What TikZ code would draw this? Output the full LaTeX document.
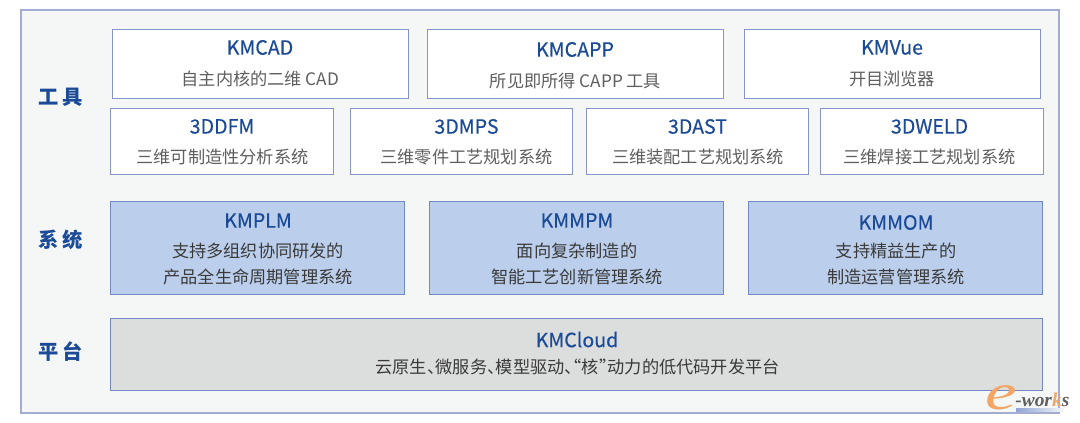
\documentclass[tikz,border=0pt]{standalone}
\usepackage{fontspec}
\setmainfont{Noto Sans CJK SC}
\newfontfamily\titlefont[FakeBold=0.35]{Noto Sans CJK SC}
\newfontfamily\markfont{Liberation Serif}
\usepackage{tikz}
\definecolor{framecol}{HTML}{A3ACD3}
\definecolor{panelcol}{HTML}{F5F7F7}
\definecolor{edgecol}{HTML}{8794CA}
\definecolor{sysedge}{HTML}{7388C6}
\definecolor{bluecol}{HTML}{BBCFEC}
\definecolor{greycol}{HTML}{DCDDDD}
\definecolor{titlecol}{HTML}{1B4A96}
\definecolor{subcol}{HTML}{5F5F5F}
\definecolor{darkcol}{HTML}{3A3A3A}
\definecolor{markcol}{HTML}{F3A566}
\definecolor{barcol}{HTML}{8FA3D6}
\tikzset{box/.style={draw=edgecol,line width=.6pt,inner sep=0pt,outer sep=0pt}}
\tikzset{wide/.style={box,fill=white,minimum width=222pt,minimum height=51.75pt}}
\tikzset{narrow/.style={box,fill=white,minimum width=167pt,minimum height=49.5pt}}
\tikzset{sys/.style={box,draw=sysedge,fill=bluecol,minimum width=220.5pt,minimum height=69.75pt}}
\tikzset{plat/.style={box,draw=sysedge,fill=greycol,minimum width=699pt,minimum height=54pt}}
\tikzset{title/.style={inner sep=0pt,text=titlecol,font=\titlefont\fontsize{14.7}{16}\selectfont}}
\tikzset{sub/.style={inner sep=0pt,text=subcol,font=\fontsize{12.9}{15}\selectfont}}
\tikzset{subd/.style={inner sep=0pt,text=darkcol,font=\fontsize{12.9}{15}\selectfont}}
\tikzset{side/.style={inner sep=0pt,text=titlecol,font=\bfseries\fontsize{15.2}{17}\selectfont}}
\tikzset{wm/.style={inner sep=0pt,font=\markfont\bfseries\itshape\fontsize{14.6}{17}\selectfont}}
\begin{document}
\begin{tikzpicture}[x=.75pt,y=-.75pt]
      \useasboundingbox (0,0) rectangle (1080,423);
      \node[draw=framecol,line width=.8pt,fill=panelcol,inner sep=0pt,minimum width=778.5pt,minimum height=302.25pt] (frame) at (540,211.5) {};
      \node[wide] (cad) at (260,63.5) {};
      \node[wide] (capp) at (575,63.5) {};
      \node[wide] (vue) at (892,63.5) {};
      \node[narrow] (dfm) at (222,141) {};
      \node[narrow] (mps) at (461.5,141) {};
      \node[narrow] (dast) at (697.5,141) {};
      \node[narrow] (weld) at (932,141) {};
      \node[sys] (plm) at (257.5,247.5) {};
      \node[sys] (mpm) at (576.5,247.5) {};
      \node[sys] (mom) at (895.5,247.5) {};
      \node[plat] (cloud) at (576.5,354.5) {};
      \node[side] (tool) at (60.5,97.5) {工\hspace{3pt}具};
      \node[side] (system) at (60.5,239.5) {系\hspace{3pt}统};
      \node[side] (platform) at (60.5,351.5) {平\hspace{3pt}台};
      \node[title] (cadt) at (260,47.5) {KMCAD};
      \node[sub] (cads) at (260.5,79) {自主内核的二维 CAD};
      \node[title] (cappt) at (575,49.5) {KMCAPP};
      \node[sub] (capps) at (575.5,81) {所见即所得 CAPP 工具};
      \node[title] (vuet) at (892,47.5) {KMVue};
      \node[sub] (vues) at (892,79) {开目浏览器};
      \node[title] (dfmt) at (222,126.5) {3DDFM};
      \node[sub] (dfms) at (222.5,157) {三维可制造性分析系统};
      \node[title] (mpst) at (466.5,126.5) {3DMPS};
      \node[sub] (mpss) at (466.5,157) {三维零件工艺规划系统};
      \node[title] (dastt) at (697.5,126.5) {3DAST};
      \node[sub] (dasts) at (698,157) {三维装配工艺规划系统};
      \node[title] (weldt) at (929.5,126.5) {3DWELD};
      \node[sub] (welds) at (929.5,157) {三维焊接工艺规划系统};
      \node[title] (plmt) at (258,220.5) {KMPLM};
      \node[subd] (plma) at (258,251) {支持多组织协同研发的};
      \node[subd] (plmb) at (258,277) {产品全生命周期管理系统};
      \node[title] (mpmt) at (577,220.5) {KMMPM};
      \node[subd] (mpma) at (577,251) {面向复杂制造的};
      \node[subd] (mpmb) at (577,277) {智能工艺创新管理系统};
      \node[title] (momt) at (896,222.5) {KMMOM};
      \node[subd] (moma) at (896,251) {支持精益生产的};
      \node[subd] (momb) at (896,277) {制造运营管理系统};
      \node[title] (cloudt) at (577,339.5) {KMCloud};
      \node[subd] (clouds) at (577.5,367) {\addfontfeatures{RawFeature=+halt}云原生、微服务、模型驱动、“核”动力的低代码开发平台};
      \shade[left color=barcol,right color=panelcol] (1016,408) rectangle (1064,411);
      \node[wm,text=markcol,font=\markfont\itshape\fontsize{38}{40}\selectfont,xscale=1.4] (marke) at (1001,398) {e};
      \node[wm,text=subcol,anchor=west] (markw) at (1015,400) {-wor\textcolor{markcol}{k}s};
\end{tikzpicture}
\end{document}
